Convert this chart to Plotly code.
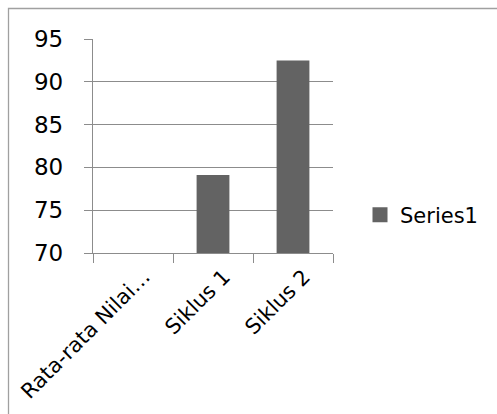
import plotly.graph_objects as go

categories = ["Rata-rata Nilai…", "Siklus 1", "Siklus 2"]
values = [None, 79.1, 92.5]
y_ticks = [70, 75, 80, 85, 90, 95]
series_name = "Series1"
bar_color = "#636363"

W, H = 497, 414
L, R, T, B = 93, 164, 39, 161
pw, ph = W - L - R, H - T - B

def px_x(x):
    return (x - L) / pw

def px_y(y):
    return (H - B - y) / ph

fig = go.Figure()
fig.add_trace(go.Bar(
    x=categories, y=values, name=series_name,
    marker=dict(color=bar_color, line=dict(width=0)),
    showlegend=False,
))
# legend entry with a larger square swatch
fig.add_trace(go.Scatter(
    x=[None], y=[None], mode="markers", name=series_name,
    marker=dict(symbol="square", size=15, color=bar_color),
    showlegend=True,
))

font = "DejaVu Sans, sans-serif"
fig.update_layout(
    width=W, height=H,
    margin=dict(l=L, r=R, t=T, b=B, pad=0, autoexpand=False),
    paper_bgcolor="white", plot_bgcolor="white",
    bargap=0.59,
    font=dict(family=font, size=21, color="#000000"),
    showlegend=True,
    legend=dict(x=px_x(360), y=px_y(215), xanchor="left", yanchor="middle",
                font=dict(size=21, family=font),
                bgcolor="rgba(0,0,0,0)", tracegroupgap=0),
    xaxis=dict(
        type="category", tickson="boundaries", ticks="outside", ticklen=9,
        tickcolor="#8c8c8c", tickwidth=1.3, showgrid=False,
        showline=True, linecolor="#8c8c8c", linewidth=1.3,
        tickangle=-45, tickfont=dict(size=21, family=font),
        ticklabelstandoff=2, ticklabelshift=11, automargin=False,
        range=[-0.5, 2.5], fixedrange=True,
    ),
    yaxis=dict(
        range=[70, 95], tickvals=y_ticks, ticks="outside", ticklen=8,
        tickcolor="#8c8c8c", tickwidth=1.3,
        showgrid=True, gridcolor="#8c8c8c", gridwidth=1.3,
        showline=True, linecolor="#8c8c8c", linewidth=1.3,
        zeroline=False, tickfont=dict(size=23, family=font),
        ticklabelstandoff=16, automargin=False, fixedrange=True,
    ),
    shapes=[dict(type="rect", xref="paper", yref="paper",
                 x0=px_x(8.5), x1=px_x(510), y0=px_y(430), y1=px_y(8.5),
                 line=dict(color="#a0a0a0", width=1.3), layer="below")],
)

fig.write_html("out.html")
